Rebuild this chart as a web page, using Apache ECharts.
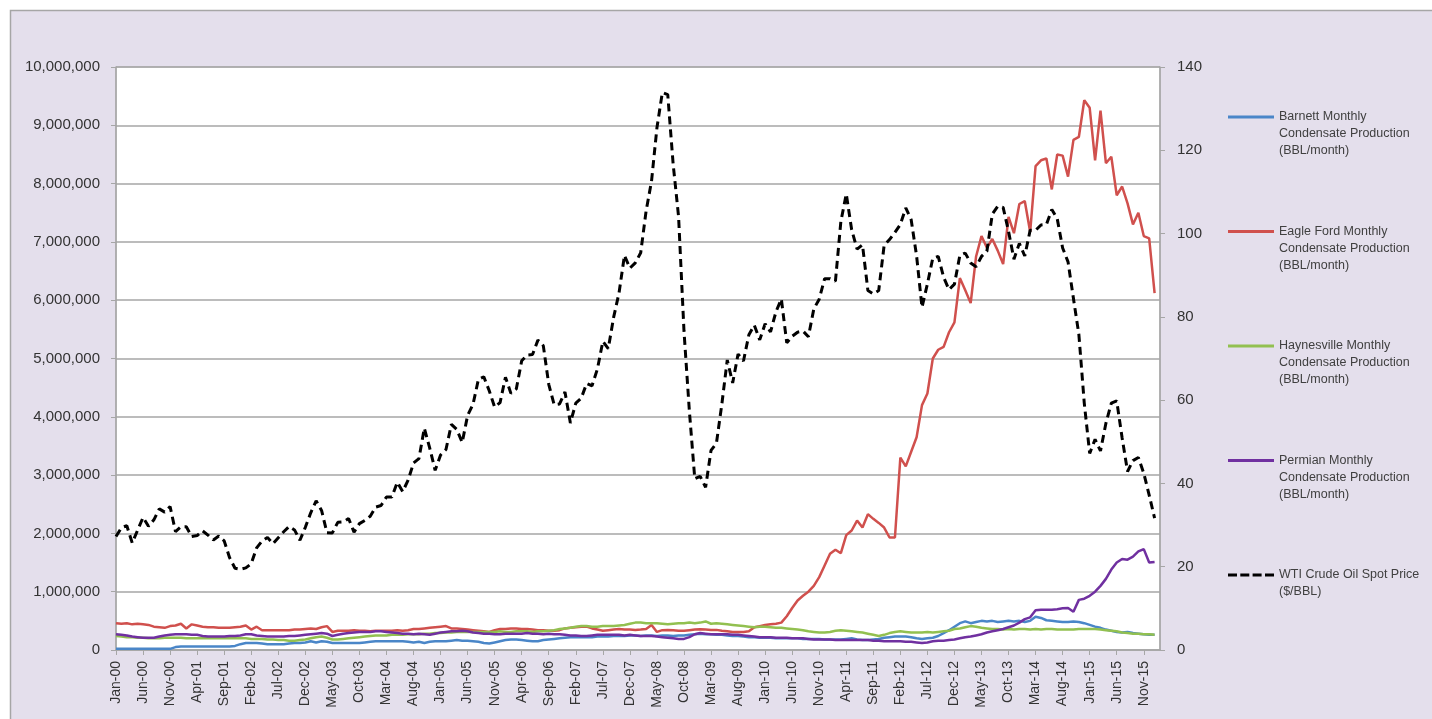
<!DOCTYPE html>
<html>
<head>
<meta charset="utf-8">
<title>Condensate production vs WTI</title>
<script src="https://cdn.jsdelivr.net/npm/echarts@6/dist/echarts.min.js"></script>
<style>
  html, body { margin: 0; padding: 0; background: #fff; }
  #main { width: 1432px; height: 719px; }
</style>
</head>
<body>
<div id="main"></div>
<script>
// month labels Jan-00 .. Feb-16 (axis runs one month past the last point)
const monthNames = ["Jan", "Feb", "Mar", "Apr", "May", "Jun", "Jul", "Aug", "Sep", "Oct", "Nov", "Dec"];
const categories = [];
for (let y = 2000; y <= 2016; y++) {
  for (let m = 0; m < 12; m++) {
    if (categories.length < 194) categories.push(monthNames[m] + "-" + String(y).slice(2));
  }
}

// production, thousand BBL / month
const barnett = [
  20, 20, 20, 20, 20, 20, 20, 20, 20, 20,
  20, 50, 60, 60, 60, 60, 60, 60, 60, 60,
  60, 60, 70, 100, 120, 120, 120, 110, 100, 100,
  100, 100, 110, 120, 120, 130, 150, 130, 150, 140,
  120, 120, 120, 120, 120, 120, 130, 140, 150, 150,
  150, 150, 150, 150, 140, 130, 140, 120, 140, 150,
  150, 150, 160, 170, 160, 160, 150, 140, 120, 110,
  130, 150, 170, 180, 180, 170, 160, 150, 150, 170,
  180, 190, 200, 210, 220, 220, 220, 220, 220, 230,
  230, 230, 240, 240, 240, 250, 250, 240, 250, 250,
  240, 250, 250, 240, 250, 250, 260, 270, 280, 270,
  270, 260, 260, 250, 240, 240, 230, 220, 220, 210,
  210, 210, 200, 200, 200, 200, 200, 190, 190, 190,
  190, 180, 180, 180, 180, 190, 200, 180, 170, 170,
  180, 190, 210, 220, 230, 230, 230, 220, 200, 190,
  200, 210, 240, 290, 340, 400, 460, 490, 460, 480,
  500, 490, 500, 480, 490, 500, 490, 500, 480, 500,
  570, 550, 510, 500, 490, 480, 480, 490, 480, 460,
  430, 400, 380, 350, 330, 310, 300, 310, 290, 280,
  270, 260, 260
];
const eagleFord = [
  460, 450, 460, 440, 450, 440, 430, 400, 390, 380,
  410, 420, 450, 370, 440, 420, 400, 390, 390, 380,
  380, 380, 390, 400, 420, 350, 400, 340, 340, 340,
  340, 340, 340, 350, 350, 360, 370, 360, 390, 410,
  310, 330, 330, 330, 340, 330, 330, 320, 330, 330,
  330, 330, 340, 330, 340, 360, 360, 370, 380, 390,
  400, 410, 370, 370, 360, 350, 340, 330, 320, 310,
  340, 360, 360, 370, 370, 360, 360, 350, 340, 340,
  330, 330, 340, 370, 380, 390, 400, 400, 370, 350,
  330, 340, 350, 360, 350, 350, 345, 350, 360, 430,
  310, 340, 345, 340, 330, 330, 340, 350, 355, 350,
  345, 345, 330, 320, 310, 310, 310, 320, 390, 410,
  430, 440, 450, 470, 580, 720, 850, 930, 1000, 1100,
  1250, 1450, 1650, 1720, 1660, 1970, 2050, 2220, 2100, 2330,
  2250, 2180, 2100, 1930, 1930, 3300, 3150, 3400, 3650, 4200,
  4400, 5000, 5150, 5200, 5450, 5620, 6380, 6170, 5950, 6750,
  7100, 6900, 7050, 6850, 6620, 7430, 7150, 7650, 7700, 7170,
  8300, 8400, 8430, 7900, 8500, 8480, 8120, 8750, 8800, 9430,
  9300, 8400, 9250, 8350, 8460, 7800, 7950, 7660, 7300, 7500,
  7100, 7060, 6120
];
const haynesville = [
  240, 230, 220, 220, 210, 210, 200, 200, 200, 210,
  210, 210, 210, 200, 200, 200, 200, 200, 200, 200,
  200, 200, 200, 200, 200, 190, 190, 190, 180, 180,
  170, 170, 160, 160, 170, 180, 200, 220, 230, 210,
  180, 180, 190, 200, 210, 220, 230, 240, 250, 250,
  250, 260, 260, 260, 270, 270, 270, 280, 280, 290,
  290, 300, 300, 310, 310, 310, 310, 310, 310, 310,
  310, 320, 310, 310, 320, 320, 320, 310, 320, 320,
  330, 340, 360, 370, 380, 400, 410, 410, 400, 400,
  410, 410, 410, 420, 430, 450, 470, 470, 460, 460,
  460, 450, 440, 450, 460, 460, 470, 460, 470, 490,
  450, 460, 450, 440, 430, 420, 410, 400, 390, 400,
  400, 390, 380, 380, 370, 360, 350, 340, 320, 310,
  300, 300, 310, 330, 340, 330, 320, 310, 300, 280,
  260, 240, 260, 290, 310, 320, 310, 300, 300, 300,
  310, 300, 310, 320, 330, 360, 370, 390, 410, 400,
  380, 370, 360, 360, 350, 360, 350, 360, 360, 350,
  360, 350, 360, 360, 350, 350, 350, 350, 360, 360,
  360, 360, 350, 340, 330, 320, 300, 290, 280, 280,
  270, 270, 260
];
const permian = [
  270, 260, 250, 230, 220, 210, 210, 210, 230, 250,
  260, 270, 270, 270, 260, 260, 240, 230, 230, 230,
  230, 240, 240, 250, 270, 270, 250, 240, 230, 230,
  230, 230, 240, 240, 250, 260, 270, 280, 290, 280,
  240, 260, 280, 290, 300, 310, 310, 310, 320, 320,
  310, 300, 290, 280, 280, 270, 280, 270, 260, 280,
  300, 310, 320, 320, 330, 320, 300, 290, 280, 280,
  270, 270, 280, 280, 280, 280, 290, 280, 280, 270,
  280, 270, 270, 260, 250, 250, 240, 240, 250, 260,
  260, 260, 260, 260, 250, 260, 250, 240, 240, 240,
  230, 220, 210, 200, 190, 190, 220, 270, 290, 280,
  270, 270, 270, 270, 260, 260, 250, 240, 230, 220,
  220, 220, 210, 210, 210, 200, 200, 200, 190, 180,
  180, 180, 180, 170, 170, 170, 170, 170, 170, 170,
  160, 160, 150, 150, 150, 150, 140, 140, 130, 120,
  130, 150, 160, 160, 170, 180, 200, 220, 230, 250,
  270, 300, 320, 340, 360, 390, 420, 470, 530, 560,
  680, 690, 690, 690, 700, 715, 720, 655, 860, 880,
  930, 1000, 1100, 1220, 1380, 1500, 1560, 1550, 1600, 1690,
  1730, 1500, 1510
];
// WTI spot, $/BBL
const wti = [
  27.26, 29.37, 29.84, 25.72, 28.79, 31.82, 29.70, 31.26, 33.88, 33.11, 34.42, 28.44,
  29.59, 29.61, 27.24, 27.49, 28.63, 27.60, 26.43, 27.37, 26.20, 22.17, 19.64, 19.39,
  19.72, 20.72, 24.53, 26.18, 27.04, 25.52, 26.97, 28.39, 29.66, 28.84, 26.35, 29.46,
  32.95, 35.83, 33.51, 28.17, 28.11, 30.66, 30.75, 31.57, 28.31, 30.34, 31.11, 32.13,
  34.31, 34.69, 36.74, 36.75, 40.28, 38.03, 40.78, 44.90, 45.94, 53.28, 48.47, 43.15,
  46.84, 48.15, 54.19, 52.98, 49.83, 56.35, 59.00, 64.99, 65.59, 62.26, 58.32, 59.41,
  65.49, 61.63, 62.69, 69.44, 70.84, 70.95, 74.41, 73.04, 63.80, 58.89, 59.08, 61.96,
  54.51, 59.28, 60.44, 63.98, 63.46, 67.49, 74.12, 72.36, 79.92, 85.80, 94.77, 91.69,
  92.97, 95.39, 105.45, 112.58, 125.40, 133.88, 133.37, 116.67, 104.11, 76.61, 57.31, 41.12,
  41.71, 39.09, 47.94, 49.65, 59.03, 69.64, 64.15, 71.05, 69.41, 75.72, 77.99, 74.47,
  78.33, 76.39, 81.20, 84.29, 73.74, 75.34, 76.32, 76.60, 75.24, 81.89, 84.25, 89.15,
  89.17, 88.58, 102.86, 109.53, 100.90, 96.26, 97.30, 86.33, 85.52, 86.32, 97.16, 98.56,
  100.27, 102.20, 106.16, 103.32, 94.66, 82.30, 87.90, 94.13, 94.51, 89.49, 86.53, 87.86,
  94.76, 95.31, 92.94, 92.02, 94.51, 95.77, 104.67, 106.57, 106.29, 100.54, 93.86, 97.63,
  94.62, 100.82, 100.80, 102.07, 102.18, 105.79, 103.59, 96.54, 93.21, 84.40, 75.79, 59.29,
  47.22, 50.58, 47.82, 54.45, 59.27, 59.82, 50.90, 42.87, 45.48, 46.22, 42.44, 37.19,
  31.68
];

const names = ["Barnett", "Eagle Ford", "Haynesville", "Permian", "WTI"];
const legendText = {
  "Barnett": "Barnett Monthly\nCondensate Production\n(BBL/month)",
  "Eagle Ford": "Eagle Ford Monthly\nCondensate Production\n(BBL/month)",
  "Haynesville": "Haynesville Monthly\nCondensate Production\n(BBL/month)",
  "Permian": "Permian Monthly\nCondensate Production\n(BBL/month)",
  "WTI": "WTI Crude Oil Spot Price\n($/BBL)"
};
const colors = ["#4a86c8", "#d0504d", "#92c050", "#7030a0", "#000000"];
const legendY = [117, 231.5, 346, 460.5, 575];
// short line for solid series, four dashes for the price
const solidIcon = "rect";
const dashIcon = "path://M0,0h9v3h-9z M12.3,0h9v3h-9z M24.6,0h9v3h-9z M37,0h9v3h-9z";

const FONT = "Liberation Sans";
const LH = 17;

let chart = echarts.init(document.getElementById("main"));

// legend text is centred on the icon, so blank lines on top push the
// first real line level with the icon (Excel style)
let legends = names.map((n, i) => {
  let lines = legendText[n].split("\n").length;
  let pad = "\n".repeat(lines - 1);
  let total = 2 * lines - 1;
  return {
    data: [n],
    orient: "vertical",
    left: 1228,
    top: legendY[i] - total * LH / 2,
    padding: 0,
    icon: n === "WTI" ? dashIcon : solidIcon,
    itemWidth: 46,
    itemHeight: 3,
    selectedMode: false,
    formatter: (name) => pad + legendText[name],
    textStyle: {
      fontFamily: FONT,
      fontSize: 12.5,
      lineHeight: LH,
      color: "#404040"
    }
  };
});

const prodSeries = [barnett, eagleFord, haynesville, permian].map((arr, i) => ({
  name: names[i],
  type: "line",
  data: arr.map((v) => v * 1000),
  showSymbol: false,
  symbol: "none",
  lineStyle: { color: colors[i], width: 2.5 },
  itemStyle: { color: colors[i] }
}));

let option = {
  animation: false,
  backgroundColor: "#ffffff",
  color: colors,
  graphic: [{
    type: "rect",
    z: -100,
    silent: true,
    shape: { x: 10.5, y: 10.5, width: 1440, height: 720 },
    style: { fill: "#e4dfec", stroke: "#a6a6a6", lineWidth: 1.5 }
  }],
  legend: legends,
  grid: {
    left: 116,
    right: 272,
    top: 67,
    bottom: 69,
    show: true,
    backgroundColor: "#ffffff",
    borderColor: "#a6a6a6",
    borderWidth: 1
  },
  xAxis: {
    type: "category",
    data: categories,
    boundaryGap: false,
    axisLine: { lineStyle: { color: "#a6a6a6", width: 1.5 } },
    axisTick: { interval: 4, length: 5, lineStyle: { color: "#a6a6a6" } },
    axisLabel: {
      interval: 4,
      rotate: 90,
      margin: 11,
      fontFamily: FONT,
      fontSize: 14,
      color: "#333"
    },
    splitLine: { show: false }
  },
  yAxis: [{
    type: "value",
    min: 0,
    max: 10000000,
    interval: 1000000,
    axisLine: { show: true, lineStyle: { color: "#a6a6a6", width: 1.5 } },
    axisTick: { show: true, length: 5, lineStyle: { color: "#a6a6a6" } },
    axisLabel: {
      margin: 16,
      fontFamily: FONT,
      fontSize: 15,
      color: "#333",
      formatter: (v) => v.toLocaleString("en-US")
    },
    splitLine: { lineStyle: { color: "#a6a6a6", width: 1.5 } }
  }, {
    type: "value",
    min: 0,
    max: 140,
    interval: 20,
    position: "right",
    axisLine: { show: true, lineStyle: { color: "#a6a6a6", width: 1.5 } },
    axisTick: { show: true, length: 5, lineStyle: { color: "#a6a6a6" } },
    axisLabel: { margin: 17, fontFamily: FONT, fontSize: 15, color: "#333" },
    splitLine: { show: false }
  }],
  series: prodSeries.concat([{
    name: "WTI",
    type: "line",
    yAxisIndex: 1,
    data: wti,
    showSymbol: false,
    symbol: "none",
    lineStyle: { color: "#000", width: 3, type: [8, 5] },
    itemStyle: { color: "#000" },
    z: 3
  }])
};

chart.setOption(option);
</script>
</body>
</html>
